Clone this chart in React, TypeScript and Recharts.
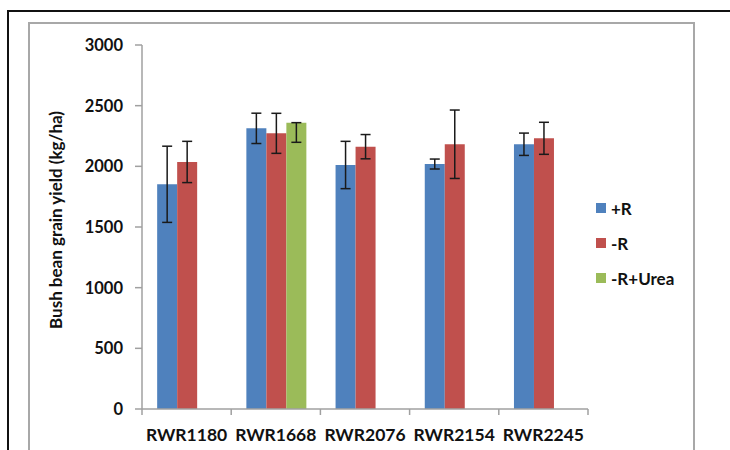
import React from 'react';
import { BarChart, Bar, XAxis, YAxis, ErrorBar } from 'recharts';

const categories = ['RWR1180', 'RWR1668', 'RWR2076', 'RWR2154', 'RWR2245'];
const plusR = [1852, 2313, 2011, 2019, 2182];
const plusRErr = [314, 125, 195, 41, 92];
const minusR = [2036, 2272, 2162, 2182, 2231];
const minusRErr = [170, 165, 100, 282, 132];
const minusRUrea: (number | null)[] = [null, 2360, null, null, null];
const minusRUreaErr: (number[] | null)[] = [null, [162, 0], null, null, null];
const yTicks = [0, 500, 1000, 1500, 2000, 2500, 3000];

const series = [
  { key: 'plusR', err: 'plusRErr', name: '+R', color: '#4F81BD' },
  { key: 'minusR', err: 'minusRErr', name: '-R', color: '#C0504D' },
  { key: 'urea', err: 'ureaErr', name: '-R+Urea', color: '#9BBB59' },
];

const data = categories.map((c, i) => ({
  name: c,
  plusR: plusR[i],
  plusRErr: plusRErr[i],
  minusR: minusR[i],
  minusRErr: minusRErr[i],
  urea: minusRUrea[i],
  ureaErr: minusRUreaErr[i],
}));

const FONT = 'Lato, "Open Sans", sans-serif';
const PLOT_LEFT = 142;
const PLOT_RIGHT = 588;
const BAND = (PLOT_RIGHT - PLOT_LEFT) / categories.length;
const AXIS_COLOR = '#a0a0a0';

const XTick = (props: any) => {
  const { x, y, payload, index } = props;
  const left = x - BAND / 2;
  const axisY = y - 8;
  return (
    <g>
      <line x1={left} x2={left} y1={axisY} y2={axisY + 6} stroke={AXIS_COLOR} strokeWidth={1.5} />
      {index === categories.length - 1 && (
        <line x1={x + BAND / 2} x2={x + BAND / 2} y1={axisY} y2={axisY + 6} stroke={AXIS_COLOR} strokeWidth={1.5} />
      )}
      <text x={x} y={axisY + 32} textAnchor="middle" fontFamily={FONT} fontWeight={700} fontSize={17.5} fill="#111">
        {payload.value}
      </text>
    </g>
  );
};

const YLabel = () => (
  <text
    x={55}
    y={220}
    transform="rotate(-90 55 220)"
    textAnchor="middle"
    dominantBaseline="central"
    fontFamily={FONT}
    fontWeight={700}
    fontSize={17}
    fill="#111"
  >
    Bush bean grain yield (kg/ha)
  </text>
);

export default function App() {
  return (
    <div style={{ position: 'absolute', left: 0, top: 0, width: 730, height: 450, overflow: 'hidden', background: '#fff' }}>
      <div style={{ position: 'absolute', left: 7, top: 10, width: 760, height: 480, border: '2px solid #111', boxSizing: 'border-box' }} />
      <div style={{ position: 'absolute', left: 28, top: 22, width: 667, height: 480, border: '2px solid #a8a8a8', boxSizing: 'border-box' }} />
      <div style={{ position: 'absolute', left: 0, top: 0 }}>
        <BarChart
          width={730}
          height={450}
          data={data}
          margin={{ top: 45, right: 730 - PLOT_RIGHT, bottom: 0, left: 0 }}
          barCategoryGap="17%"
          barGap={0}
        >
          <XAxis
            dataKey="name"
            height={41}
            axisLine={{ stroke: AXIS_COLOR, strokeWidth: 1.5 }}
            tickLine={false}
            tickSize={6}
            tickMargin={2}
            tick={<XTick />}
            interval={0}
          />
          <YAxis
            width={PLOT_LEFT}
            domain={[0, 3000]}
            ticks={yTicks}
            interval={0}
            axisLine={{ stroke: AXIS_COLOR, strokeWidth: 1.5 }}
            tickLine={{ stroke: AXIS_COLOR, strokeWidth: 1.5 }}
            tickSize={7}
            tickMargin={12}
            tick={{ fontFamily: FONT, fontWeight: 700, fontSize: 16.5, fill: '#111' }}
            label={<YLabel />}
          />
          {series.map((s) => (
            <Bar key={s.key} dataKey={s.key} name={s.name} fill={s.color} isAnimationActive={false}>
              <ErrorBar dataKey={s.err} width={5} stroke="#1a1a1a" strokeWidth={1.5} direction="y" />
            </Bar>
          ))}
        </BarChart>
      </div>
      <div style={{ position: 'absolute', left: 596, top: 196, fontFamily: FONT, fontWeight: 700, fontSize: 17, color: '#111' }}>
        {series.map((s) => (
          <div key={s.key} style={{ display: 'flex', alignItems: 'center', height: 24, marginBottom: 11 }}>
            <span style={{ display: 'inline-block', width: 10, height: 10, background: s.color, marginRight: 5 }} />
            <span>{s.name}</span>
          </div>
        ))}
      </div>
    </div>
  );
}
